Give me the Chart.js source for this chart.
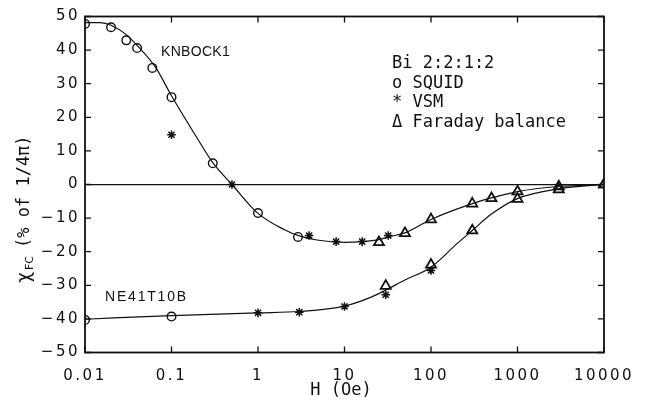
<!DOCTYPE html>
<html>
<head>
<meta charset="utf-8">
<script src="https://cdn.jsdelivr.net/npm/chart.js@4.4.0/dist/chart.umd.min.js"></script>
<style>
  html, body { margin: 0; padding: 0; background: #fff; }
  canvas { display: block; }
</style>
</head>
<body>
<canvas id="chart" width="647" height="401"></canvas>
<script>
// H (Oe) and chi_FC (% of 1/4pi)
const knbockSquidH = [0.01, 0.02, 0.03, 0.04, 0.06, 0.1, 0.3, 1, 2.9];
const knbockSquidChi = [47.8, 46.8, 42.9, 40.6, 34.7, 26, 6.3, -8.5, -15.6];
const knbockVsmH = [0.1, 0.5, 3.9, 8, 16, 32];
const knbockVsmChi = [14.8, 0, -15.2, -17, -17, -15.2];
const knbockFaradayH = [25, 50, 100, 300, 500, 1000, 3000, 10000];
const knbockFaradayChi = [-17.2, -14.5, -10.4, -5.7, -4.1, -2.1, -0.6, 0];

const ne41SquidH = [0.01, 0.1];
const ne41SquidChi = [-40.3, -39.3];
const ne41VsmH = [1, 3, 10, 30, 100];
const ne41VsmChi = [-38.2, -38, -36.3, -32.8, -25.6];
const ne41FaradayH = [30, 100, 300, 1000, 3000, 10000];
const ne41FaradayChi = [-30.2, -23.9, -13.7, -4.3, -1.5, 0];

// the smooth guide curves as drawn in the figure
const knbockLineH = [0.01, 0.015, 0.02, 0.03, 0.04, 0.065, 0.1, 0.2, 0.3, 0.5, 1, 2, 3, 5, 10, 16, 25, 32, 50, 100, 300, 500, 1000, 3000, 10000];
const knbockLineChi = [48.2, 48.2, 47.4, 44.6, 41.4, 35, 26.4, 13.6, 6.5, 0, -8.6, -13.4, -15.3, -16.6, -17.2, -17, -16.4, -15.6, -14.4, -10.4, -5.7, -4.0, -2.1, -0.6, 0];
const ne41LineH = [0.01, 0.1, 1, 3, 10, 20, 30, 50, 100, 200, 300, 500, 1000, 3000, 10000];
const ne41LineChi = [-40.1, -39, -38.2, -37.8, -36.2, -33.6, -31.4, -28.4, -24.6, -17.6, -13.7, -8.8, -4.2, -1.3, 0];

const xTickValues = [0.01, 0.1, 1, 10, 100, 1000, 10000];
const xTickLabels = ["0.01", "0.1", "1", "10", "100", "1000", "10000"];

const legendLines = ["Bi 2:2:1:2", "o SQUID", "* VSM", "\u0394 Faraday balance"];

const pts = (hs, cs) => hs.map((h, i) => ({ x: h, y: cs[i] }));

const ink = "#111";
const tickFont = { family: "DejaVu Sans", size: 15 };

const curveStyle = {
  showLine: true,
  pointRadius: 0,
  borderColor: ink,
  borderWidth: 1.2,
  cubicInterpolationMode: "monotone",
};

const markerStyle = {
  showLine: false,
  borderColor: ink,
  backgroundColor: "rgba(0,0,0,0)",
};

// inward ticks, frame and the text labels
const framePlugin = {
  id: "frame",
  beforeDraw: (chart) => {
    chart.ctx.letterSpacing = "2.5px";
  },
  afterDraw: (chart) => {
    const { ctx, chartArea: a, scales } = chart;
    const x = scales.x;
    const y = scales.y;
    ctx.save();
    ctx.letterSpacing = "0px";
    ctx.strokeStyle = ink;
    ctx.lineWidth = 1.8;
    ctx.strokeRect(a.left, a.top, a.right - a.left, a.bottom - a.top);

    ctx.lineWidth = 1.3;
    ctx.beginPath();
    xTickValues.forEach((v) => {
      const px = x.getPixelForValue(v);
      ctx.moveTo(px, a.bottom);
      ctx.lineTo(px, a.bottom - 6);
      ctx.moveTo(px, a.top);
      ctx.lineTo(px, a.top + 6);
    });
    y.ticks.forEach((t) => {
      const py = y.getPixelForValue(t.value);
      ctx.moveTo(a.left, py);
      ctx.lineTo(a.left + 6, py);
      ctx.moveTo(a.right, py);
      ctx.lineTo(a.right - 6, py);
    });
    ctx.stroke();

    ctx.fillStyle = ink;
    ctx.textBaseline = "middle";
    ctx.textAlign = "left";

    // legend block
    ctx.font = "17px 'DejaVu Sans Mono'";
    legendLines.forEach((s, i) => {
      ctx.fillText(s, 392, 64 + i * 19.5);
    });

    // sample names
    ctx.font = "14px 'Liberation Sans'";
    ctx.letterSpacing = "0.3px";
    ctx.fillText("KNBOCK1", 161, 52);
    ctx.letterSpacing = "1.8px";
    ctx.fillText("NE41T10B", 105, 297);
    ctx.letterSpacing = "0px";

    // x title
    ctx.font = "17px 'DejaVu Sans Mono'";
    ctx.textAlign = "center";
    ctx.fillText("H (Oe)", 341, 391);

    // y title, rotated, with subscript
    ctx.translate(25, 283);
    ctx.rotate(-Math.PI / 2);
    ctx.textAlign = "left";
    ctx.font = "19px 'DejaVu Sans Mono'";
    ctx.fillText("\u03c7", 0, 0);
    ctx.font = "11px 'DejaVu Sans'";
    ctx.fillText("FC", 13, 5);
    ctx.font = "17px 'DejaVu Sans Mono'";
    ctx.fillText("(% of 1/4\u03c0)", 35, 0);
    ctx.restore();
  },
};

new Chart(document.getElementById("chart"), {
  type: "scatter",
  data: {
    datasets: [
      { label: "KNBOCK1 curve", data: pts(knbockLineH, knbockLineChi), ...curveStyle },
      { label: "NE41T10B curve", data: pts(ne41LineH, ne41LineChi), ...curveStyle },
      {
        label: "SQUID",
        data: pts(knbockSquidH, knbockSquidChi).concat(pts(ne41SquidH, ne41SquidChi)),
        ...markerStyle,
        pointStyle: "circle",
        pointRadius: 4.3,
        borderWidth: 1.4,
      },
      {
        label: "VSM",
        data: pts(knbockVsmH, knbockVsmChi).concat(pts(ne41VsmH, ne41VsmChi)),
        ...markerStyle,
        pointStyle: "star",
        pointRadius: 4.3,
        borderWidth: 1.5,
      },
      {
        label: "Faraday balance",
        data: pts(knbockFaradayH, knbockFaradayChi).concat(pts(ne41FaradayH, ne41FaradayChi)),
        ...markerStyle,
        pointStyle: "triangle",
        pointRadius: 5.8,
        borderWidth: 1.8,
      },
    ],
  },
  options: {
    responsive: false,
    animation: false,
    devicePixelRatio: 1,
    layout: { padding: { top: 16.5, right: 43, left: 0, bottom: 0 } },
    scales: {
      x: {
        type: "logarithmic",
        position: "bottom",
        min: 0.01,
        max: 10000,
        grid: { display: false },
        border: { display: false },
        afterBuildTicks: (s) => {
          s.ticks = xTickValues.map((v) => ({ value: v }));
        },
        afterFit: (s) => {
          s.height = 48.5;
        },
        ticks: {
          autoSkip: false,
          maxRotation: 0,
          padding: 7,
          color: ink,
          font: tickFont,
          callback: (v, i) => xTickLabels[i],
        },
      },
      y: {
        min: -50,
        max: 50,
        afterFit: (s) => {
          s.width = 85;
        },
        grid: {
          drawTicks: false,
          lineWidth: 1.3,
          color: (c) => (c.tick && c.tick.value === 0 ? ink : "rgba(0,0,0,0)"),
        },
        border: { display: false },
        ticks: {
          stepSize: 10,
          padding: 5,
          color: ink,
          font: tickFont,
          callback: (v) => (v < 0 ? "\u2212" + Math.abs(v) : String(v)),
        },
      },
    },
    plugins: {
      legend: { display: false },
      tooltip: { enabled: false },
    },
  },
  plugins: [framePlugin],
});
</script>
</body>
</html>
